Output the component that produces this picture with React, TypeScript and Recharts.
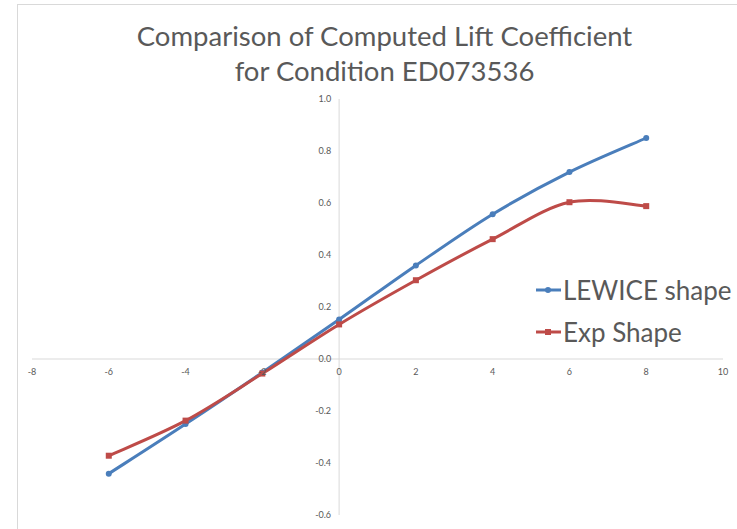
import { LineChart, Line, XAxis, YAxis, ReferenceLine } from 'recharts'

/* ---------- data ---------- */

const angles = [-6, -4, -2, 0, 2, 4, 6, 8]
const lewiceShape = [-0.441, -0.25, -0.052, 0.152, 0.36, 0.557, 0.719, 0.85]
const expShape = [-0.372, -0.237, -0.056, 0.133, 0.303, 0.461, 0.603, 0.588]
const xTicks = [-8, -6, -4, -2, 0, 2, 4, 6, 8, 10]
const yTicks = [-0.6, -0.4, -0.2, 0, 0.2, 0.4, 0.6, 0.8, 1.0]
const titleLines = ['Comparison of Computed Lift Coefficient', 'for Condition ED073536']

const chartData = angles.map((a, i) => ({ x: a, lewice: lewiceShape[i], exp: expShape[i] }))

/* ---------- layout ---------- */

const W = 737
const H = 529
const AXIS_PAD = 1 // axes need a nonzero box to draw their ticks
const MARGIN = { top: 99, right: 14, bottom: 14 - AXIS_PAD, left: 32 - AXIS_PAD }
const X_MIN = -8
const X_MAX = 10
const Y_MIN = -0.6
const Y_MAX = 1.0
const PLOT_L = 32
const PLOT_W = W - PLOT_L - 14
const PLOT_H = H - 99 - 14
const ZERO_X = PLOT_L + (PLOT_W * (0 - X_MIN)) / (X_MAX - X_MIN)
const ZERO_Y = 99 + (PLOT_H * (Y_MAX - 0)) / (Y_MAX - Y_MIN)

const BLUE = '#4a7ebb'
const RED = '#be4b48'
const TEXT = '#595959'
const AXIS = '#d9d9d9'
const FONT = 'Lato, "Open Sans", sans-serif'

/* ---------- Excel-like smoothed line (Catmull-Rom) ---------- */

// eslint-disable-next-line @typescript-eslint/no-explicit-any
function excelSmooth(context: any) {
  let pts: [number, number][] = []
  return {
    areaStart() {},
    areaEnd() {},
    lineStart() {
      pts = []
    },
    point(x: number, y: number) {
      pts.push([+x, +y])
    },
    lineEnd() {
      const n = pts.length
      if (!n) return
      context.moveTo(pts[0][0], pts[0][1])
      for (let i = 0; i < n - 1; i++) {
        const p0 = pts[Math.max(i - 1, 0)]
        const p1 = pts[i]
        const p2 = pts[i + 1]
        const p3 = pts[Math.min(i + 2, n - 1)]
        context.bezierCurveTo(
          p1[0] + (p2[0] - p0[0]) / 6,
          p1[1] + (p2[1] - p0[1]) / 6,
          p2[0] - (p3[0] - p1[0]) / 6,
          p2[1] - (p3[1] - p1[1]) / 6,
          p2[0],
          p2[1],
        )
      }
    },
  }
}

/* ---------- ticks / markers ---------- */

// eslint-disable-next-line @typescript-eslint/no-explicit-any
const XTick = (props: any) => (
  <text x={props.x} y={ZERO_Y + 16} textAnchor="middle" fontSize={9} fill={TEXT} fontFamily={FONT}>
    {props.payload.value}
  </text>
)

// eslint-disable-next-line @typescript-eslint/no-explicit-any
const YTick = (props: any) => (
  <text x={ZERO_X - 8} y={props.y + 3} textAnchor="end" fontSize={9} fill={TEXT} fontFamily={FONT}>
    {Number(props.payload.value).toFixed(1)}
  </text>
)

// eslint-disable-next-line @typescript-eslint/no-explicit-any
const CircleDot = (props: any) => <circle key={props.index} cx={props.cx} cy={props.cy} r={3} fill={BLUE} />

// eslint-disable-next-line @typescript-eslint/no-explicit-any
const SquareDot = (props: any) => (
  <rect key={props.index} x={props.cx - 3} y={props.cy - 3} width={6} height={6} fill={RED} />
)

const legendItems = [
  { label: 'LEWICE shape', color: BLUE, square: false },
  { label: 'Exp Shape', color: RED, square: true },
]

/* ---------- component ---------- */

export default function App() {
  return (
    <div style={{ position: 'absolute', left: 0, top: 0, width: W, height: H, overflow: 'hidden', background: '#fff' }}>
      <div
        style={{
          position: 'absolute',
          left: 17,
          top: 4,
          width: W,
          height: H,
          borderLeft: `1px solid ${AXIS}`,
          borderTop: `1px solid ${AXIS}`,
        }}
      />
      <div
        style={{
          position: 'absolute',
          left: 0,
          top: 18,
          width: W + 32,
          textAlign: 'center',
          fontFamily: FONT,
          fontSize: 27.5,
          lineHeight: '35px',
          color: TEXT,
        }}
      >
        {titleLines.map((t) => (
          <div key={t}>{t}</div>
        ))}
      </div>
      <LineChart width={W} height={H} data={chartData} margin={MARGIN} style={{ position: 'absolute', left: 0, top: 0 }}>
        <XAxis
          dataKey="x"
          type="number"
          domain={[X_MIN, X_MAX]}
          ticks={xTicks}
          height={AXIS_PAD}
          axisLine={false}
          tickLine={false}
          tick={<XTick />}
          allowDataOverflow
        />
        <YAxis
          type="number"
          domain={[Y_MIN, Y_MAX]}
          ticks={yTicks}
          width={AXIS_PAD}
          axisLine={false}
          tickLine={false}
          tick={<YTick />}
          allowDataOverflow
        />
        <ReferenceLine y={0} stroke={AXIS} strokeWidth={1} />
        <ReferenceLine x={0} stroke={AXIS} strokeWidth={1} />
        <Line
          dataKey="lewice"
          name="LEWICE shape"
          type={excelSmooth}
          stroke={BLUE}
          strokeWidth={3}
          dot={<CircleDot />}
          activeDot={false}
          isAnimationActive={false}
        />
        <Line
          dataKey="exp"
          name="Exp Shape"
          type={excelSmooth}
          stroke={RED}
          strokeWidth={3}
          dot={<SquareDot />}
          activeDot={false}
          isAnimationActive={false}
        />
      </LineChart>
      <div
        style={{
          position: 'absolute',
          left: 536,
          top: 269,
          fontFamily: FONT,
          fontSize: 26,
          color: TEXT,
          whiteSpace: 'nowrap',
        }}
      >
        {legendItems.map((it) => (
          <div key={it.label} style={{ display: 'flex', alignItems: 'center', height: 42 }}>
            <svg width={26} height={10} style={{ marginRight: 1 }}>
              <line x1={0} y1={5} x2={25} y2={5} stroke={it.color} strokeWidth={3} />
              {it.square ? (
                <rect x={9} y={2} width={6} height={6} fill={it.color} />
              ) : (
                <circle cx={12} cy={5} r={3} fill={it.color} />
              )}
            </svg>
            <span>{it.label}</span>
          </div>
        ))}
      </div>
    </div>
  )
}
